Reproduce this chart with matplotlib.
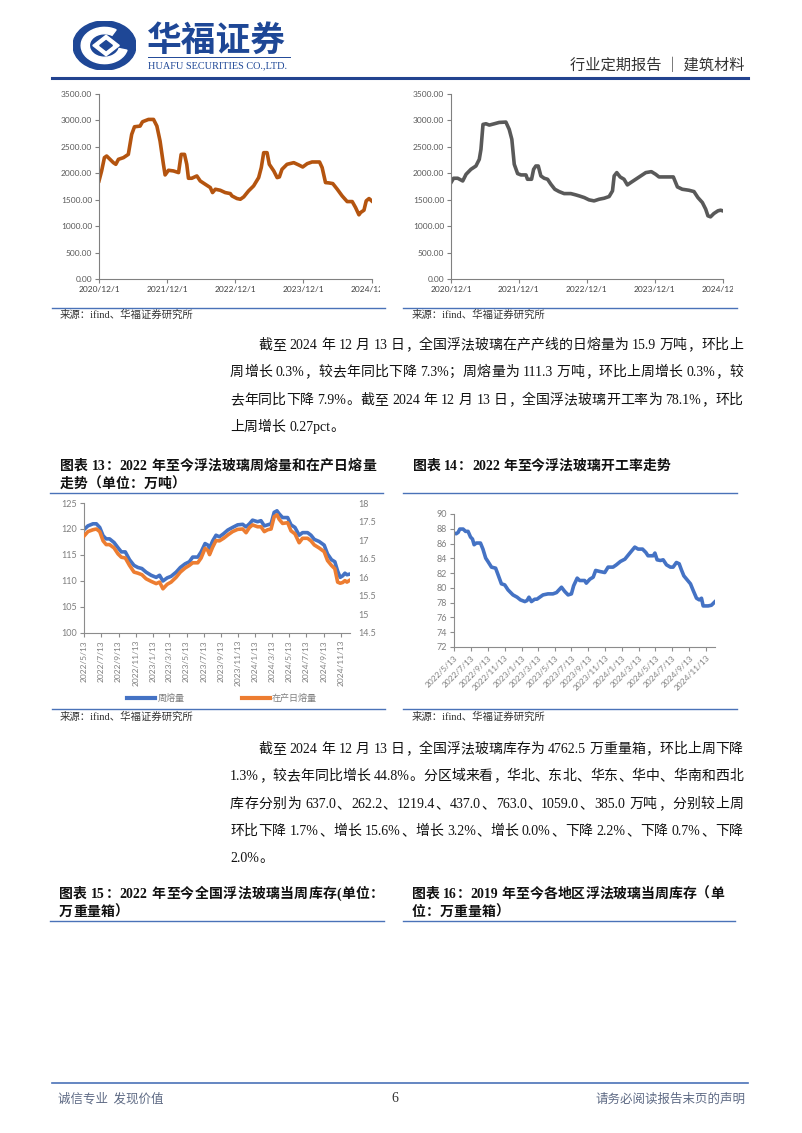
import re
import numpy as np
import pandas as pd
import matplotlib
matplotlib.use('Agg')
import matplotlib.pyplot as plt
from matplotlib.lines import Line2D
from matplotlib.patches import Circle, Wedge, Polygon
from matplotlib.transforms import Bbox, TransformedBbox

plt.rcParams['font.family'] = ['Liberation Serif', 'Noto Sans CJK SC']

# ---- data: top two price charts
price_a_dates = ['2020-12-01', '2020-12-15', '2020-12-30', '2021-01-11', '2021-01-29', '2021-02-16',
                 '2021-03-01', '2021-03-15', '2021-04-11', '2021-05-07', '2021-05-25', '2021-06-09',
                 '2021-07-09', '2021-07-22', '2021-08-23', '2021-09-19', '2021-10-07', '2021-10-24',
                 '2021-11-11', '2021-11-20', '2021-12-08', '2022-01-04', '2022-01-31', '2022-02-14',
                 '2022-03-04', '2022-03-16', '2022-03-25', '2022-04-12', '2022-05-09', '2022-05-27',
                 '2022-06-23', '2022-07-20', '2022-08-01', '2022-08-16', '2022-09-11', '2022-10-08',
                 '2022-11-04', '2022-11-13', '2022-12-10', '2022-12-28', '2023-01-15', '2023-02-10',
                 '2023-03-09', '2023-04-05', '2023-04-19', '2023-05-02', '2023-05-20', '2023-06-01',
                 '2023-06-25', '2023-07-13', '2023-07-25', '2023-08-08', '2023-09-04', '2023-10-10',
                 '2023-11-06', '2023-11-27', '2023-12-21', '2024-01-16', '2024-02-25', '2024-03-10',
                 '2024-03-28', '2024-04-15', '2024-05-06', '2024-05-30', '2024-06-25', '2024-07-22',
                 '2024-08-18', '2024-09-05', '2024-09-23', '2024-10-02', '2024-10-20', '2024-11-01',
                 '2024-11-16', '2024-11-30']
price_a = [1855, 2044, 2296, 2327, 2264, 2201, 2170, 2264, 2296, 2358, 2736, 2880,
           2893, 2975, 3019, 3019, 2893, 2610, 2170, 1969, 2057, 2044, 2013, 2358,
           2358, 2170, 1906, 1906, 1950, 1855, 1792, 1730, 1635, 1698, 1679, 1635,
           1616, 1572, 1522, 1509, 1553, 1667, 1761, 1918, 2107, 2390, 2390, 2170,
           2044, 1918, 1931, 2075, 2170, 2201, 2157, 2119, 2182, 2214, 2214, 2107,
           1824, 1818, 1805, 1698, 1572, 1465, 1465, 1352, 1214, 1258, 1302, 1478,
           1522, 1478]

price_b_dates = ['2020-12-01', '2020-12-15', '2021-01-06', '2021-02-02', '2021-02-20', '2021-03-18',
                 '2021-04-14', '2021-05-02', '2021-05-11', '2021-05-22', '2021-06-07', '2021-06-25',
                 '2021-07-22', '2021-08-17', '2021-09-22', '2021-10-10', '2021-10-24', '2021-11-06',
                 '2021-11-24', '2021-12-12', '2022-01-08', '2022-01-16', '2022-02-07', '2022-02-18',
                 '2022-03-02', '2022-03-15', '2022-03-29', '2022-04-16', '2022-05-04', '2022-05-22',
                 '2022-06-12', '2022-07-05', '2022-08-01', '2022-09-06', '2022-10-03', '2022-10-21',
                 '2022-11-17', '2022-12-13', '2023-01-09', '2023-02-05', '2023-03-04', '2023-03-31',
                 '2023-04-18', '2023-04-27', '2023-05-11', '2023-05-29', '2023-06-19', '2023-07-07',
                 '2023-07-25', '2023-08-21', '2023-09-17', '2023-10-14', '2023-11-13', '2023-12-06',
                 '2023-12-24', '2024-02-07', '2024-03-10', '2024-04-01', '2024-04-27', '2024-06-02',
                 '2024-06-29', '2024-07-20', '2024-08-13', '2024-08-31', '2024-09-12', '2024-09-26',
                 '2024-10-14', '2024-11-05', '2024-11-19', '2024-11-30']
price_b = [1824, 1906, 1906, 1855, 1981, 2075, 2138, 2264, 2453, 2925, 2937, 2912,
           2937, 2962, 2969, 2830, 2642, 2170, 1994, 1969, 1969, 1887, 1887, 2075,
           2138, 2138, 1950, 1906, 1887, 1792, 1698, 1654, 1616, 1616, 1591, 1572,
           1541, 1497, 1478, 1509, 1528, 1560, 1667, 1950, 2013, 1931, 1887, 1780,
           1824, 1887, 1950, 2013, 2031, 1981, 1931, 1931, 1931, 1742, 1698, 1679,
           1654, 1541, 1447, 1321, 1195, 1176, 1239, 1290, 1302, 1290]

year_ticks = ['2020-12-01', '2021-12-01', '2022-12-01', '2023-12-01', '2024-12-01']
year_labels = ['2020/12/1', '2021/12/1', '2022/12/1', '2023/12/1', '2024/12/1']

# ---- data: chart 13 (weekly melt, daily melt) and chart 14 (utilisation)
melt_dates = ['2022-05-13', '2022-05-27', '2022-06-14', '2022-06-26', '2022-07-08', '2022-07-20',
              '2022-07-31', '2022-08-12', '2022-08-28', '2022-09-11', '2022-09-23', '2022-10-07',
              '2022-10-22', '2022-11-07', '2022-11-21', '2022-12-05', '2022-12-20', '2023-01-07',
              '2023-01-25', '2023-02-06', '2023-02-18', '2023-03-05', '2023-03-19', '2023-04-06',
              '2023-04-21', '2023-05-08', '2023-05-23', '2023-06-04', '2023-06-22', '2023-07-04',
              '2023-07-18', '2023-07-28', '2023-08-03', '2023-08-14', '2023-08-26', '2023-09-07',
              '2023-09-22', '2023-10-07', '2023-10-24', '2023-11-11', '2023-11-29', '2023-12-11',
              '2023-12-23', '2024-01-03', '2024-01-21', '2024-02-02', '2024-02-14', '2024-02-26',
              '2024-03-09', '2024-03-20', '2024-03-30', '2024-04-07', '2024-04-19', '2024-05-07',
              '2024-05-19', '2024-06-02', '2024-06-17', '2024-06-29', '2024-07-17', '2024-07-29',
              '2024-08-10', '2024-08-27', '2024-09-14', '2024-09-26', '2024-10-10', '2024-10-22',
              '2024-11-01', '2024-11-10', '2024-11-19', '2024-11-27', '2024-12-04', '2024-12-12']
melt_weekly = [119.9, 120.6, 121.0, 121.0, 120.3, 118.7, 118.1, 118.1, 117.4, 116.4, 115.6, 115.6,
               114.1, 113.0, 112.6, 112.4, 111.7, 111.1, 110.7, 111.1, 110.0, 110.6, 110.9, 111.7,
               112.6, 113.3, 113.7, 114.6, 114.6, 115.6, 117.2, 116.9, 116.3, 117.7, 118.8, 118.5,
               119.1, 119.8, 120.3, 120.8, 120.9, 120.4, 121.0, 121.7, 121.4, 121.6, 120.6, 120.8,
               121.0, 123.2, 123.5, 122.9, 122.2, 122.2, 120.8, 120.3, 118.8, 119.3, 119.3, 118.8,
               118.0, 117.6, 116.9, 115.2, 114.1, 113.7, 111.9, 110.7, 111.0, 111.5, 111.2, 111.3]
melt_daily = [17.11, 17.23, 17.28, 17.30, 17.23, 16.98, 16.88, 16.88, 16.79, 16.63, 16.54, 16.52,
              16.32, 16.14, 16.11, 16.07, 15.96, 15.89, 15.83, 15.87, 15.69, 15.81, 15.87, 16.00,
              16.14, 16.25, 16.32, 16.39, 16.39, 16.52, 16.78, 16.72, 16.61, 16.81, 16.99, 16.98,
              17.05, 17.14, 17.23, 17.29, 17.30, 17.20, 17.34, 17.41, 17.36, 17.36, 17.23, 17.28,
              17.30, 17.63, 17.68, 17.56, 17.45, 17.47, 17.25, 17.17, 16.93, 17.05, 17.05, 16.98,
              16.87, 16.79, 16.69, 16.45, 16.32, 16.23, 15.87, 15.84, 15.86, 15.91, 15.87, 15.91]

util_dates = ['2022-05-13', '2022-05-21', '2022-05-28', '2022-06-03', '2022-06-15', '2022-06-24',
              '2022-07-03', '2022-07-12', '2022-07-19', '2022-07-25', '2022-08-02', '2022-08-17',
              '2022-08-26', '2022-09-05', '2022-09-13', '2022-09-26', '2022-10-11', '2022-10-20',
              '2022-11-01', '2022-11-13', '2022-11-25', '2022-12-13', '2022-12-28', '2023-01-09',
              '2023-01-25', '2023-02-02', '2023-02-09', '2023-02-18', '2023-03-02', '2023-03-10',
              '2023-03-20', '2023-04-01', '2023-04-19', '2023-05-07', '2023-05-20', '2023-06-07',
              '2023-06-19', '2023-07-01', '2023-07-13', '2023-07-21', '2023-08-03', '2023-08-12',
              '2023-08-30', '2023-09-05', '2023-09-18', '2023-09-30', '2023-10-09', '2023-10-24',
              '2023-11-11', '2023-11-23', '2023-12-11', '2023-12-23', '2024-01-07', '2024-01-23',
              '2024-02-10', '2024-02-28', '2024-03-11', '2024-03-27', '2024-04-08', '2024-04-16',
              '2024-05-05', '2024-05-11', '2024-05-19', '2024-05-31', '2024-06-10', '2024-06-22',
              '2024-07-06', '2024-07-16', '2024-07-28', '2024-08-07', '2024-08-15', '2024-08-24',
              '2024-09-05', '2024-09-17', '2024-09-27', '2024-10-09', '2024-10-19', '2024-10-27',
              '2024-11-02', '2024-11-20', '2024-12-02', '2024-12-14']
util_rate = [87.42, 87.33, 87.51, 87.96, 87.96, 87.65, 87.65, 86.88, 86.61, 85.84, 86.07, 86.07,
             85.25, 84.03, 83.58, 82.81, 82.67, 81.77, 80.55, 80.41, 79.73, 79.05, 78.74, 78.38,
             78.15, 78.29, 78.74, 78.15, 78.47, 78.47, 78.74, 79.05, 79.19, 79.19, 79.37, 80.09,
             79.51, 79.05, 79.19, 80.28, 81.32, 81.00, 81.00, 80.64, 81.18, 81.45, 82.36, 82.22,
             82.08, 82.81, 82.81, 83.12, 83.58, 83.89, 84.71, 85.52, 85.25, 85.25, 84.80, 84.35,
             84.35, 84.71, 83.80, 83.71, 83.80, 83.12, 82.81, 82.81, 83.44, 83.26, 82.45, 81.63,
             81.09, 80.55, 79.64, 78.60, 78.38, 78.60, 77.56, 77.56, 77.65, 78.10]

month_ticks = pd.date_range('2022-05-13', periods=16, freq=pd.DateOffset(months=2))

# ---- page text
para1 = [('截至 2024 年 12 月 13 日，全国浮法玻璃在产产线的日熔量为 15.9 万吨，环比上', True),
         ('周增长 0.3%，较去年同比下降 7.3%；周熔量为 111.3 万吨，环比上周增长 0.3%，较', False),
         ('去年同比下降 7.9%。截至 2024 年 12 月 13 日，全国浮法玻璃开工率为 78.1%，环比', False),
         ('上周增长 0.27pct。', False)]
para2 = [('截至 2024 年 12 月 13 日，全国浮法玻璃库存为 4762.5 万重量箱，环比上周下降', True),
         ('1.3%，较去年同比增长 44.8%。分区域来看，华北、东北、华东、华中、华南和西北', False),
         ('库存分别为 637.0、262.2、1219.4、437.0、763.0、1059.0、385.0 万吨，分别较上周', False),
         ('环比下降 1.7%、增长 15.6%、增长 3.2%、增长 0.0%、下降 2.2%、下降 0.7%、下降', False),
         ('2.0%。', False)]
source_txt = '来源：ifind、华福证券研究所'

W, H = 802, 1133
fig = plt.figure(figsize=(W / 100, H / 100), dpi=100)
renderer = fig.canvas.get_renderer()

NAVY = '#1E4796'
RULE = '#4A72B8'
SANS = ['Noto Sans CJK SC', 'DejaVu Sans']
TICKF = ['Lato', 'DejaVu Sans']


def fx(x):
    return x / W


def fy(y):
    return 1 - y / H


def px_axes(l, t, r, b):
    return fig.add_axes([l / W, 1 - b / H, (r - l) / W, (b - t) / H])


def hline(x0, x1, y, color=RULE, lw=1.0):
    fig.add_artist(Line2D([fx(x0), fx(x1)], [fy(y), fy(y)], transform=fig.transFigure,
                          color=color, lw=lw))


def put_line(s, x0, x1, yc, justify=True, size=10, weight='normal', color='#111111'):
    # place a line token by token so it can be stretched like justified Word text
    em = size * 100 / 72
    toks = re.findall(r'[A-Za-z0-9.%()]+|\s+|[^\sA-Za-z0-9.%()]', s)
    items = []
    for tk in toks:
        if tk.isspace():
            items.append((None, em * 0.25))
            continue
        t = fig.text(0, fy(yc + em * 0.36), tk, fontsize=size, fontweight=weight,
                     va='baseline', ha='left', color=color)
        if tk.isascii():
            w = t.get_window_extent(renderer).width
        else:
            w = em
        items.append((t, w))
    total = sum(w for _, w in items)
    gap = 0
    if justify and len(items) > 1:
        gap = ((x1 - x0) - total) / (len(items) - 1)
    x = x0
    for t, w in items:
        if t is not None:
            t.set_x(fx(x))
        x += w + gap


# ---- header
lax = px_axes(73, 21, 136, 70)
lax.set_xlim(-1, 1)
lax.set_ylim(-1, 1)
lax.axis('off')
lax.add_patch(Circle((0, 0), 1, color=NAVY))
lax.add_patch(Wedge((0, 0), 0.74, 60, 345, width=0.26, color='white'))
lax.add_patch(Polygon([(0.05, 0.42), (0.47, 0.0), (0.05, -0.42), (-0.37, 0.0)], color='white'))
lax.add_patch(Polygon([(0.05, 0.2), (0.25, 0.0), (0.05, -0.2), (-0.15, 0.0)], color=NAVY))

fig.text(fx(147), fy(40), '华福证券', fontsize=25, fontweight='bold', color=NAVY,
         family=SANS, va='center', ha='left')
hline(148, 290, 57, NAVY, 0.7)
fig.text(fx(148), fy(66), 'HUAFU SECURITIES CO.,LTD.', fontsize=7.4, color=NAVY,
         va='center', ha='left')
fig.text(fx(745), fy(66), '行业定期报告 ｜ 建筑材料', fontsize=11, color='#333333',
         family=SANS, va='center', ha='right')
hline(52, 748, 78, '#23438F', 2.2)


# ---- top charts
def price_chart(l, r, dates, vals, color, clip_x):
    ax = px_axes(l, 94, r, 279)
    ax.plot(pd.to_datetime(dates), vals, color=color, lw=2.6, solid_joinstyle='round')
    ax.set_ylim(0, 3500)
    yt = np.arange(0, 3501, 500)
    ax.set_yticks(yt)
    ax.set_yticklabels([f'{v:.2f}' for v in yt])
    ax.set_xlim(pd.Timestamp('2020-12-01'), pd.Timestamp('2024-12-02'))
    ax.set_xticks(pd.to_datetime(year_ticks))
    ax.set_xticklabels(year_labels)
    for s in ['top', 'right']:
        ax.spines[s].set_visible(False)
    for s in ['left', 'bottom']:
        ax.spines[s].set_color('#808080')
        ax.spines[s].set_linewidth(0.8)
    ax.tick_params(length=3, width=0.8, color='#808080', labelsize=6, pad=2)
    for lab in ax.get_yticklabels():
        lab.set_family(TICKF)
        lab.set_color('#595959')
    for lab in ax.get_xticklabels():
        lab.set_family(TICKF)
        lab.set_color('#404040')
    last = ax.xaxis.get_major_ticks()[-1].label1
    last.set_clip_box(TransformedBbox(Bbox.from_extents(0, 0, clip_x / W, 1), fig.transFigure))
    last.set_clip_on(True)
    return ax


price_chart(99, 372, price_a_dates, price_a, '#B4540F', 380)
price_chart(451, 723, price_b_dates, price_b, '#595959', 733)

hline(52, 385, 308)
hline(403, 737, 308)
fig.text(fx(60), fy(315), source_txt, fontsize=7.5, color='#333333', va='center')
fig.text(fx(412), fy(315), source_txt, fontsize=7.5, color='#333333', va='center')

# ---- paragraph 1
for (s, indent), yc in zip(para1, [344, 371, 399, 426]):
    put_line(s, 258 if indent else 230, 743, yc, justify=(s != para1[-1][0]))

# ---- chart 13 / 14 titles
put_line('图表 13：2022 年至今浮法玻璃周熔量和在产日熔量', 60, 376, 465, weight='bold')
put_line('走势（单位：万吨）', 60, 200, 483, justify=False, weight='bold')
put_line('图表 14：2022 年至今浮法玻璃开工率走势', 413, 700, 465, justify=False, weight='bold')
hline(50, 383, 493)
hline(403, 737, 493)


def style_axis(ax):
    for s in ['top', 'right']:
        ax.spines[s].set_visible(False)
    for s in ['left', 'bottom']:
        ax.spines[s].set_color('#8C8C8C')
        ax.spines[s].set_linewidth(0.8)
    ax.tick_params(length=3, width=0.8, color='#8C8C8C', labelsize=6, labelcolor='#7F7F7F', pad=2)
    for lab in ax.get_xticklabels() + ax.get_yticklabels():
        lab.set_family(TICKF)


tick_labels = [f'{d.year}/{d.month}/{d.day}' for d in month_ticks]

# chart 13
ax13 = px_axes(84, 503, 350, 633)
ax13.plot(pd.to_datetime(melt_dates), melt_weekly, color='#4472C4', lw=2.6)
ax13.set_ylim(100, 125)
ax13.set_yticks(np.arange(100, 126, 5))
ax13.set_xlim(pd.Timestamp('2022-05-13'), pd.Timestamp('2024-12-15'))
ax13.set_xticks(month_ticks)
ax13.set_xticklabels(tick_labels, rotation=90)
style_axis(ax13)
for lab in ax13.get_yticklabels():
    lab.set_fontsize(6.5)
ax13b = ax13.twinx()
ax13b.plot(pd.to_datetime(melt_dates), melt_daily, color='#ED7D31', lw=2.6)
ax13b.set_ylim(14.5, 18)
rt = np.arange(14.5, 18.01, 0.5)
ax13b.set_yticks(rt)
ax13b.set_yticklabels([f'{v:g}' for v in rt])
for s in ax13b.spines.values():
    s.set_visible(False)
ax13b.tick_params(length=0, labelsize=6.5, labelcolor='#7F7F7F', pad=6)
for lab in ax13b.get_yticklabels():
    lab.set_family(TICKF)

# legend of chart 13
fig.add_artist(Line2D([fx(127), fx(155)], [fy(698), fy(698)], transform=fig.transFigure,
                      color='#4472C4', lw=3))
fig.text(fx(158), fy(698), '周熔量', fontsize=6.5, color='#7F7F7F', family=SANS, va='center')
fig.add_artist(Line2D([fx(242), fx(270)], [fy(698), fy(698)], transform=fig.transFigure,
                      color='#ED7D31', lw=3))
fig.text(fx(272), fy(698), '在产日熔量', fontsize=6.5, color='#7F7F7F', family=SANS, va='center')

# chart 14
ax14 = px_axes(454, 514, 715, 647)
ax14.plot(pd.to_datetime(util_dates), util_rate, color='#4472C4', lw=2.6)
ax14.set_ylim(72, 90)
ax14.set_yticks(np.arange(72, 91, 2))
ax14.set_xlim(pd.Timestamp('2022-05-13'), pd.Timestamp('2024-12-15'))
ax14.set_xticks(month_ticks)
ax14.set_xticklabels(tick_labels, rotation=45, ha='right', rotation_mode='anchor')
style_axis(ax14)
for lab in ax14.get_yticklabels():
    lab.set_fontsize(6.5)

hline(52, 385, 709)
hline(403, 737, 709)
fig.text(fx(60), fy(717), source_txt, fontsize=7.5, color='#333333', va='center')
fig.text(fx(412), fy(717), source_txt, fontsize=7.5, color='#333333', va='center')

# ---- paragraph 2
for (s, indent), yc in zip(para2, [748, 775, 803, 830, 857]):
    put_line(s, 258 if indent else 230, 743, yc, justify=(s != para2[-1][0]))

# ---- chart 15 / 16 titles
put_line('图表 15：2022 年至今全国浮法玻璃当周库存(单位：', 59, 384, 893, weight='bold')
put_line('万重量箱）', 59, 200, 911, justify=False, weight='bold')
put_line('图表 16：2019 年至今各地区浮法玻璃当周库存（单', 412, 724, 893, weight='bold')
put_line('位：万重量箱）', 412, 600, 911, justify=False, weight='bold')
hline(50, 384, 921)
hline(403, 735, 921)

# ---- footer
hline(52, 748, 1083, RULE, 1.2)
fig.text(fx(58), fy(1099), '诚信专业  发现价值', fontsize=9, color='#5F6B85', family=SANS, va='center')
fig.text(fx(395), fy(1099), '6', fontsize=10, color='#333333', va='center', ha='center')
fig.text(fx(745), fy(1099), '请务必阅读报告末页的声明', fontsize=9, color='#5F6B85', family=SANS,
         va='center', ha='right')

fig.savefig('out.png', dpi=100)
